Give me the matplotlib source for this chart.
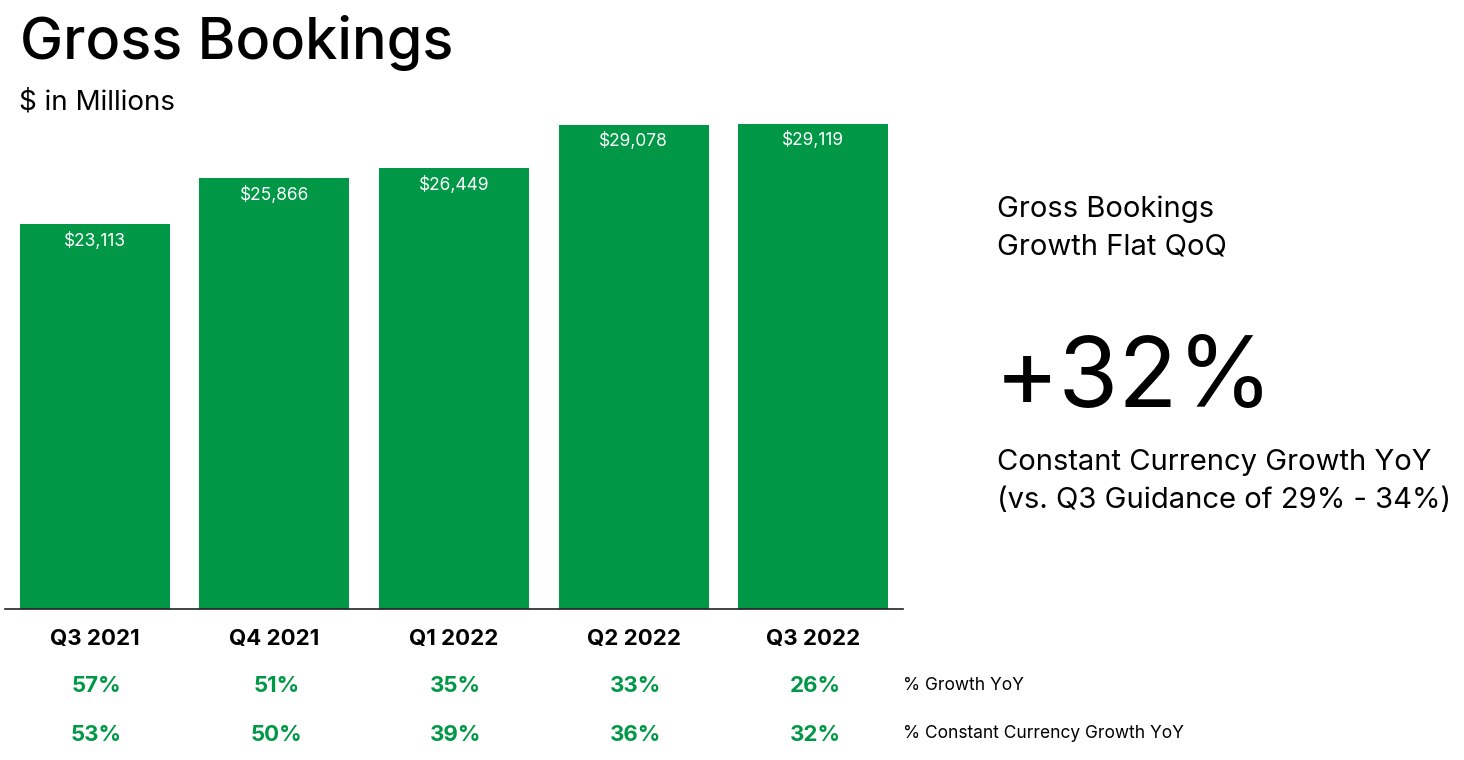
import matplotlib
matplotlib.use("Agg")
import matplotlib.pyplot as plt
from matplotlib.transforms import blended_transform_factory

quarters = ["Q3 2021", "Q4 2021", "Q1 2022", "Q2 2022", "Q3 2022"]
bookings = [23113, 25866, 26449, 29078, 29119]
growth_yoy = ["57%", "51%", "35%", "33%", "26%"]
growth_cc = ["53%", "50%", "39%", "36%", "32%"]

GREEN = "#009846"
W, H = 1464, 760
plt.rcParams["font.family"] = ["Inter", "DejaVu Sans"]

fig = plt.figure(figsize=(W / 100, H / 100), dpi=100)
# axes placed in pixel terms: baseline at y=609, spans x 5..903
ax = fig.add_axes([5 / W, (H - 609) / H, 898 / W, (609 - 100) / H])
x = list(range(len(quarters)))
ax.bar(x, bookings, width=0.836, color=GREEN)
ax.set_xlim(-0.5, 4.5)
ax.set_ylim(0, 30550)
for s in ["top", "right", "left"]:
    ax.spines[s].set_visible(False)
ax.spines["bottom"].set_color("#222222")
ax.spines["bottom"].set_linewidth(1.2)
ax.set_xticks([])
ax.set_yticks([])

for xi, v in zip(x, bookings):
    ax.annotate(f"${v:,}", (xi, v), xytext=(0, -5.5), textcoords="offset points",
                ha="center", va="top", color="white", fontsize=12.5)

tr = blended_transform_factory(ax.transData, fig.transFigure)
def fy(py):
    return 1 - py / H

for xi, q, g1, g2 in zip(x, quarters, growth_yoy, growth_cc):
    ax.text(xi, fy(639), q, transform=tr, ha="center", va="center",
            fontsize=16, fontweight="bold", color="black")
    ax.text(xi + 0.01, fy(686), g1, transform=tr, ha="center", va="center",
            fontsize=16, fontweight="bold", color=GREEN)
    ax.text(xi + 0.01, fy(735), g2, transform=tr, ha="center", va="center",
            fontsize=16, fontweight="bold", color=GREEN)

fig.text(903 / W, fy(686), "% Growth YoY", ha="left", va="center", fontsize=12.5)
fig.text(903 / W, fy(734), "% Constant Currency Growth YoY", ha="left", va="center", fontsize=12.5)

fig.text(20 / W, fy(43), "Gross Bookings", ha="left", va="center", fontsize=41.5, fontweight="medium")
fig.text(19 / W, fy(103), "$ in Millions", ha="left", va="center", fontsize=20)

fig.text(997 / W, fy(209), "Gross Bookings", ha="left", va="center", fontsize=21)
fig.text(997 / W, fy(247), "Growth Flat QoQ", ha="left", va="center", fontsize=21)
fig.text(995 / W, fy(382), "+32%", ha="left", va="center", fontsize=70)
fig.text(997 / W, fy(463), "Constant Currency Growth YoY", ha="left", va="center", fontsize=21)
fig.text(997 / W, fy(501), "(vs. Q3 Guidance of 29% - 34%)", ha="left", va="center", fontsize=21)

fig.savefig("out.png", dpi=100)
